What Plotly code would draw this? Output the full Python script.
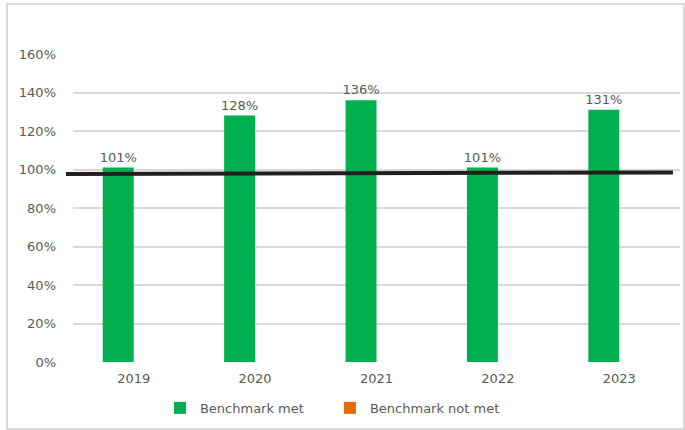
import plotly.graph_objects as go

# Benchmark results by year (percent of benchmark)
years = ["2019", "2020", "2021", "2022", "2023"]
benchmark_met = [101, 128, 136, 101, 131]
benchmark_not_met = [0, 0, 0, 0, 0]

# Reference trend line across the chart (x in category units, y in percent)
trend_x = [-0.558, 4.442]
trend_y = [97.7, 98.5]

y_ticks = [0, 20, 40, 60, 80, 100, 120, 140, 160]

GREEN = "#00B050"
ORANGE = "#E46C0A"
GRID = "#D9D9D9"
TEXT = "#595959"
FONT = "DejaVu Sans"

positions = list(range(len(years)))

# plot area spans 66..680 px; bars use an inset domain, the trend line the full width
L, R = 66, 5
area_w = 685 - L - R
bar_left = 7 / area_w
cat_px = (1 - bar_left) * area_w / 5

fig = go.Figure()
fig.add_trace(go.Bar(
    x=positions, y=benchmark_met, name="Benchmark met",
    marker=dict(color=GREEN, line=dict(width=0)),
    text=[f"{v}%" for v in benchmark_met], textposition="outside",
    textfont=dict(family=FONT, size=13, color=TEXT),
    constraintext="none", cliponaxis=False,
))
fig.add_trace(go.Bar(
    x=positions, y=benchmark_not_met, name="Benchmark not met",
    marker=dict(color=ORANGE, line=dict(width=0)),
))
fig.add_trace(go.Scatter(
    x=trend_x, y=trend_y, mode="lines", showlegend=False,
    xaxis="x2", yaxis="y2",
    line=dict(color="#231F20", width=4), hoverinfo="skip",
))

fig.update_layout(
    width=685, height=430,
    margin=dict(l=L, r=R, t=54, b=68),
    paper_bgcolor="white", plot_bgcolor="rgba(0,0,0,0)",
    barmode="group", bargap=0.49, bargroupgap=0,
    font=dict(family=FONT, size=13, color=TEXT),
    showlegend=True,
    legend=dict(
        orientation="h", x=0.153, xanchor="left", y=-0.149, yanchor="middle",
        font=dict(family=FONT, size=13, color=TEXT),
        entrywidth=125, entrywidthmode="pixels",
    ),
    xaxis=dict(
        domain=[bar_left, 1], range=[-0.5, 4.5],
        tickmode="array", tickvals=positions, ticktext=years,
        showgrid=False, zeroline=False, showline=False, ticks="",
        ticklabelstandoff=7,
        tickfont=dict(family=FONT, size=13, color=TEXT),
    ),
    yaxis=dict(
        range=[0, 160], tickmode="array", tickvals=y_ticks,
        ticktext=[f"{v}%" for v in y_ticks],
        showgrid=True, gridcolor=GRID, gridwidth=1.5, zeroline=False,
        showline=False, ticks="", ticklabelstandoff=16,
        tickfont=dict(family=FONT, size=13, color=TEXT),
    ),
    xaxis2=dict(
        domain=[0, 1], anchor="y2", range=[-0.5 - 7 / cat_px, 4.5],
        visible=False, showgrid=False, zeroline=False,
    ),
    yaxis2=dict(
        domain=[0, 1], anchor="x2", range=[0, 160],
        visible=False, showgrid=False, zeroline=False,
    ),
    shapes=[dict(
        type="rect", xref="paper", yref="paper",
        x0=(7 - L) / area_w, x1=(684 - L) / area_w,
        y0=-0.2175, y1=1.1623,
        line=dict(color=GRID, width=2), fillcolor="rgba(0,0,0,0)", layer="below",
    )],
)

fig.write_html("out.html")
